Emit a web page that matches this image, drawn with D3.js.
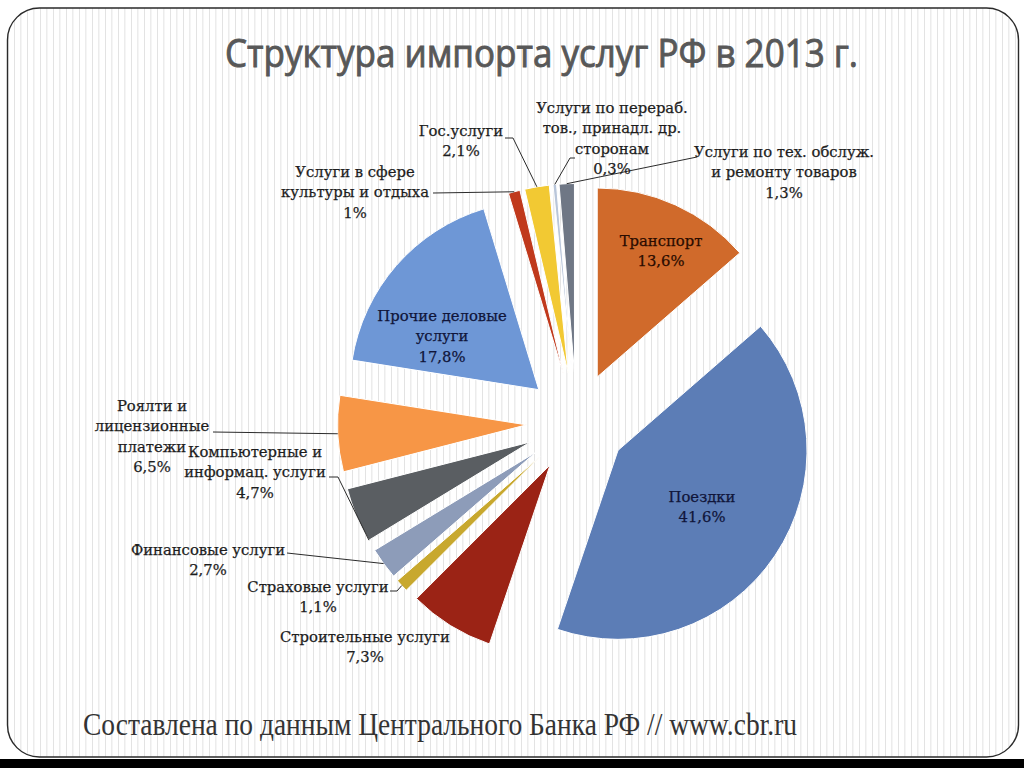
<!DOCTYPE html>
<html><head><meta charset="utf-8">
<script src="https://cdn.jsdelivr.net/npm/d3@7"></script>
<style>html,body{margin:0;padding:0;background:#fff;}svg{display:block;}</style>
</head><body>
<svg id="chart" width="1024" height="768"></svg>
<script>
// ---- data ----
const categories = [
  "Транспорт", "Поездки", "Строительные услуги", "Страховые услуги",
  "Финансовые услуги", "Компьютерные и информац. услуги",
  "Роялти и лицензионные платежи", "Прочие деловые услуги",
  "Услуги в сфере культуры и отдыха", "Гос.услуги",
  "Услуги по перераб. тов., принадл. др. сторонам",
  "Услуги по тех. обслуж. и ремонту товаров"
];
const values = [13.6, 41.6, 7.3, 1.1, 2.7, 4.7, 6.5, 17.8, 1.0, 2.1, 0.3, 1.3];
const labelLines = [
  ["Транспорт"], ["Поездки"], ["Строительные услуги"], ["Страховые услуги"],
  ["Финансовые услуги"], ["Компьютерные и", "информац. услуги"],
  ["Роялти и", "лицензионные", "платежи"], ["Прочие деловые", "услуги"],
  ["Услуги в сфере", "культуры и отдыха"], ["Гос.услуги"],
  ["Услуги по перераб.", "тов., принадл. др.", "сторонам"],
  ["Услуги по тех. обслуж.", "и ремонту товаров"]
];
const titleText = "Структура импорта услуг РФ в 2013 г.";
const sourceText = "Составлена по данным Центрального Банка РФ // www.cbr.ru";

// ---- styles / layout ----
const colors = ["#D06A2B", "#5C7DB6", "#9B2315", "#C8A82E", "#8D9CB9", "#5A5E62",
                "#F79646", "#6E97D6", "#C0391C", "#F2C933", "#B9C6DA", "#6F7785"];
const textColors = ["#2a0c00", "#10153a", "#1d1d1d", "#1d1d1d", "#1d1d1d", "#1d1d1d",
                    "#1d1d1d", "#10153a", "#1d1d1d", "#1d1d1d", "#1d1d1d", "#1d1d1d"];
// label anchor: centre x, middle of first line y; leader: label-side points, t = position in slice angle (0..1)
const labelLayout = [
  {x: 661, y: 241},
  {x: 702, y: 497},
  {x: 365, y: 637},
  {x: 318, y: 587, leader: [[390, 591], [397, 591]], t: 0.5},
  {x: 208, y: 550, leader: [[287, 553]], t: 0.5},
  {x: 255, y: 452, leader: [[329, 477], [338, 477]], t: 0.0},
  {x: 152, y: 406, leader: [[213, 432]], t: 0.5},
  {x: 442, y: 316},
  {x: 355, y: 172, leader: [[433, 193]], t: 0.5},
  {x: 461, y: 131, leader: [[505, 138], [513, 138]], t: 0.5},
  {x: 612, y: 108, leader: [[575, 158], [570, 158]], t: 0.5},
  {x: 784, y: 152, leader: [[697, 157]], t: 0.5}
];
const cx = 576.5, cy = 422.5, R = 189, explode = 50, lineH = 20.3;

const svg = d3.select("#chart");
const defs = svg.append("defs");
const pat = defs.append("pattern").attr("id", "stripes").attr("patternUnits", "userSpaceOnUse")
  .attr("width", 13).attr("height", 10);
pat.append("rect").attr("width", 13).attr("height", 10).attr("fill", "#ffffff");
pat.append("rect").attr("x", 1).attr("width", 1).attr("height", 10).attr("fill", "#e3e3e3");
pat.append("rect").attr("x", 7).attr("width", 1.5).attr("height", 10).attr("fill", "#ececec");

svg.append("rect").attr("width", 1024).attr("height", 768).attr("fill", "#fff");
svg.append("rect").attr("x", 0).attr("y", 759).attr("width", 1024).attr("height", 9).attr("fill", "#000");
svg.append("rect").attr("x", 7.5).attr("y", 8).attr("width", 1011).attr("height", 749)
  .attr("rx", 32).attr("ry", 32).attr("fill", "url(#stripes)").attr("stroke", "#2a2a2a").attr("stroke-width", 1.4);

// title
svg.append("text").attr("x", 541.5).attr("y", 67).attr("text-anchor", "middle")
  .attr("font-family", "'Liberation Sans Narrow','Open Sans',sans-serif").attr("font-weight", "normal")
  .attr("font-size", 38).attr("fill", "#585858").attr("stroke", "#585858").attr("stroke-width", 0.9)
  .attr("textLength", 633).attr("lengthAdjust", "spacingAndGlyphs").text(titleText);

// source
svg.append("text").attr("x", 83).attr("y", 735)
  .attr("font-family", "'Liberation Serif',serif").attr("font-size", 32).attr("fill", "#333")
  .attr("textLength", 714).attr("lengthAdjust", "spacingAndGlyphs").text(sourceText);

// pie
const pie = d3.pie().sort(null).value(d => d).startAngle(0).endAngle(2 * Math.PI);
const arcs = pie(values);
const arc = d3.arc().innerRadius(0).outerRadius(R);
const off = d => { const m = (d.startAngle + d.endAngle) / 2; return [Math.sin(m) * explode, -Math.cos(m) * explode]; };

const g = svg.append("g").attr("transform", `translate(${cx},${cy})`);
g.selectAll("path.slice").data(arcs).join("path").attr("class", "slice")
  .attr("transform", d => `translate(${off(d)[0]},${off(d)[1]})`)
  .attr("d", arc).attr("fill", (d, i) => colors[i]).attr("stroke", "#fff").attr("stroke-width", 1);

// leader lines
arcs.forEach((d, i) => {
  const L = labelLayout[i];
  if (!L.leader) return;
  const a = d.startAngle + (d.endAngle - d.startAngle) * L.t;
  const o = off(d);
  const end = [cx + o[0] + Math.sin(a) * R, cy + o[1] - Math.cos(a) * R];
  svg.append("polyline").attr("points", L.leader.concat([end]).map(p => p.join(",")).join(" "))
    .attr("fill", "none").attr("stroke", "#2b2b2b").attr("stroke-width", 1);
});

// labels
const fmt = v => String(v).replace(".", ",") + "%";
arcs.forEach((d, i) => {
  const L = labelLayout[i];
  const lines = labelLines[i].concat([fmt(values[i])]);
  const t = svg.append("text").attr("text-anchor", "middle")
    .attr("font-family", "'DejaVu Serif',serif").attr("font-size", 14.8)
    .attr("fill", textColors[i]).attr("stroke", textColors[i]).attr("stroke-width", 0.25);
  lines.forEach((s, k) => {
    t.append("tspan").attr("x", L.x).attr("y", L.y + k * lineH + 5).text(s);
  });
});
</script>
</body></html>
